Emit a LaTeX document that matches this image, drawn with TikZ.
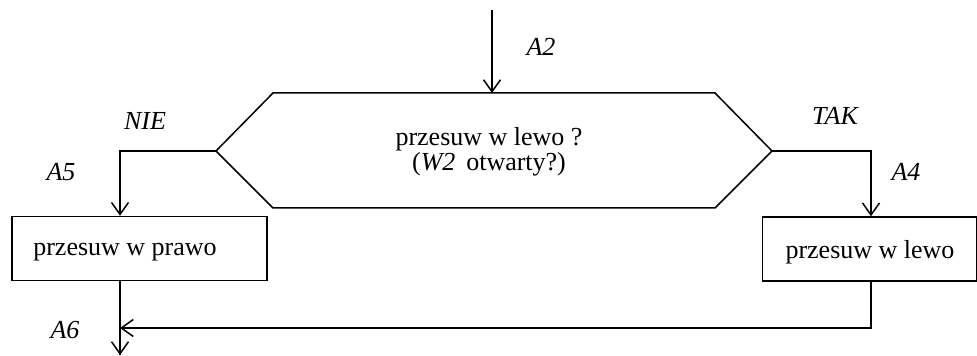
\documentclass[tikz,border=0pt]{standalone}
\usepackage{fontspec}
\setmainfont{Liberation Serif}
\usetikzlibrary{arrows.meta}
\begin{document}
\begin{tikzpicture}[x=0.5pt,y=-0.5pt,
  line width=0.75pt,
  font=\fontsize{13}{12.5}\selectfont,
  arr/.style={-{Straight Barb[length=6pt,width=8.5pt,line width=0.75pt]}},
  box/.style={draw,rectangle,minimum height=32pt,inner sep=0pt},
  lbl/.style={font=\fontsize{13}{12.5}\selectfont\itshape}]
\useasboundingbox (0,0) rectangle (977,356);
% hexagon decision
\coordinate (hl) at (216,151);
\coordinate (hr) at (772,151);
\coordinate (ht) at (492,93);
\draw (hl) -- (273,93) -- (715,93) -- (hr) -- (715,208) -- (273,208) -- cycle;
\node[align=center,inner sep=0pt] (q) at (489,152) {przesuw w lewo ?\\(\textit{W2}\, otwarty?)};
% top incoming arrow
\coordinate (top) at (492,10);
\draw[arr] (top) -- (ht);
\node[lbl] (a2) at (541,47) {A2};
% boxes
\node[box,minimum width=127.5pt] (lb) at (139.5,248.5) {};
\node (lbt) at (125,252) {przesuw w prawo};
\node[box,minimum width=107pt] (rb) at (869.5,249) {};
\node (rbt) at (870,252) {przesuw w lewo};
% branches
\draw[arr] (hl) -| (lb.north -| 120,0);
\draw[arr] (hr) -| (rb.north -| 871,0);
\node[lbl] (nie) at (145,121) {NIE};
\node[lbl] (tak) at (835,116) {TAK};
\node[lbl] (a5) at (61,172) {A5};
\node[lbl] (a4) at (906,172) {A4};
% merge
\coordinate (join) at (120,328);
\coordinate (out) at (120,355);
\draw (lb.south -| 120,0) -- (out);
\draw[arr] (rb.south -| 871,0) |- (join);
\draw[arr] (join) -- (out);
\node[lbl] (a6) at (65,330) {A6};
\end{tikzpicture}
\end{document}
